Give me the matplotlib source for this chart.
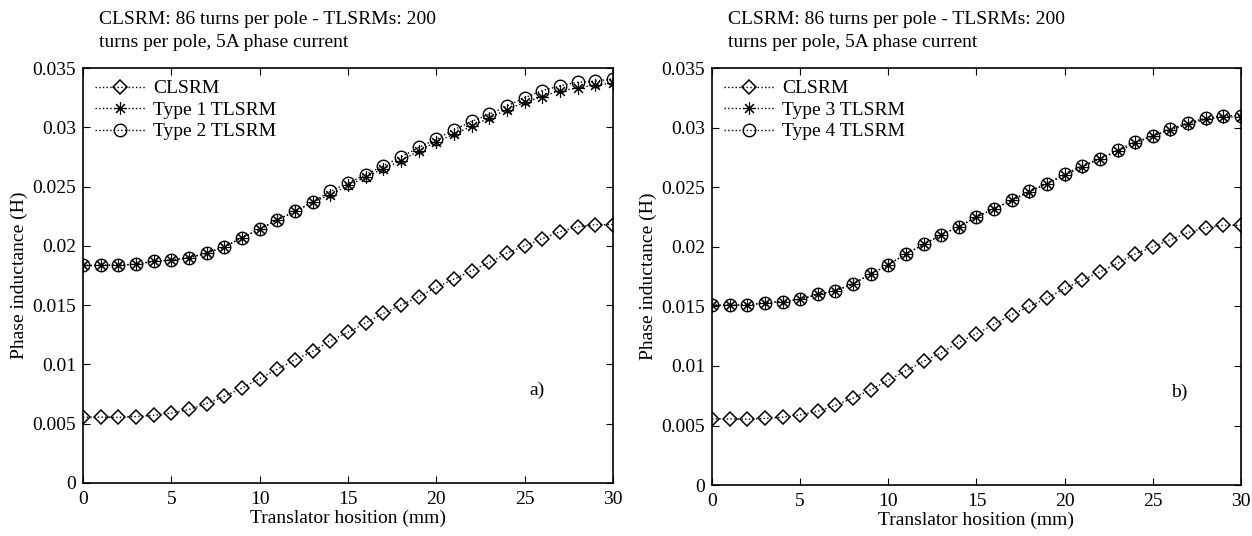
import numpy as np
import matplotlib
matplotlib.use("Agg")
import matplotlib.pyplot as plt

plt.rcParams["font.family"] = ["Liberation Serif", "DejaVu Serif"]
plt.rcParams["font.size"] = 14

# ── Daten ────────────────────────────────────────────────────────────────────
pos = np.arange(0, 31)  # Translator-Position in mm

clsrm = [0.00555, 0.00555, 0.00553, 0.0056, 0.0057, 0.0059, 0.0062, 0.0067,
         0.0073, 0.0080, 0.0088, 0.0096, 0.0104, 0.0111, 0.0120, 0.0127,
         0.0135, 0.0143, 0.0150, 0.0157, 0.0165, 0.0172, 0.0179, 0.0186,
         0.0194, 0.0200, 0.0206, 0.0212, 0.0216, 0.0218, 0.0218]

type1 = [0.01835, 0.01835, 0.01838, 0.01845, 0.0187, 0.0188, 0.0190, 0.0194,
         0.0199, 0.0207, 0.0214, 0.0222, 0.0229, 0.0237, 0.0243, 0.0251,
         0.0258, 0.0265, 0.0272, 0.0280, 0.0288, 0.0294, 0.0301, 0.0308,
         0.0315, 0.0321, 0.0326, 0.0331, 0.0333, 0.0336, 0.0337]

type2 = [0.01835, 0.01835, 0.01838, 0.01845, 0.0187, 0.0188, 0.0190, 0.0194,
         0.0199, 0.0207, 0.0214, 0.0222, 0.0229, 0.0237, 0.0246, 0.0253,
         0.0260, 0.02675, 0.0275, 0.0283, 0.0290, 0.0298, 0.0305, 0.0311,
         0.0318, 0.0325, 0.0331, 0.0335, 0.0338, 0.0339, 0.0341]

type3 = [0.0151, 0.0151, 0.0151, 0.0153, 0.0154, 0.0156, 0.0160, 0.0163,
         0.0169, 0.0177, 0.0185, 0.0194, 0.0202, 0.0210, 0.0217, 0.0225,
         0.0232, 0.0239, 0.0246, 0.0253, 0.0260, 0.0267, 0.0274, 0.0280,
         0.0287, 0.0293, 0.0298, 0.0303, 0.0307, 0.0309, 0.0309]

type4 = [0.0151, 0.0151, 0.0151, 0.0153, 0.0154, 0.0156, 0.0160, 0.0163,
         0.0169, 0.0177, 0.0185, 0.0194, 0.0202, 0.0210, 0.0217, 0.0225,
         0.0232, 0.0239, 0.0247, 0.0253, 0.0261, 0.0268, 0.0274, 0.0281,
         0.0288, 0.0293, 0.0299, 0.0304, 0.0308, 0.0310, 0.0310]

title = "CLSRM: 86 turns per pole - TLSRMs: 200\nturns per pole, 5A phase current"
yticks = [0, 0.005, 0.01, 0.015, 0.02, 0.025, 0.03, 0.035]
ytick_labels = ["0", "0.005", "0.01", "0.015", "0.02", "0.025", "0.03", "0.035"]
xticks = [0, 5, 10, 15, 20, 25, 30]

panels = [
    ("a)", [("CLSRM", clsrm), ("Type 1 TLSRM", type1), ("Type 2 TLSRM", type2)], 25.7),
    ("b)", [("CLSRM", clsrm), ("Type 3 TLSRM", type3), ("Type 4 TLSRM", type4)], 26.5),
]

markers = [
    dict(marker="D", markersize=7, markerfacecolor="none", markeredgewidth=1.1),
    dict(marker=(8, 2, 0), markersize=9, markeredgewidth=0.8),
    dict(marker="o", markersize=9, markerfacecolor="none", markeredgewidth=1.0),
]

fig = plt.figure(figsize=(12.52, 5.36), dpi=100)
ax_pos = [[0.0663, 0.099, 0.4233, 0.774], [0.5687, 0.095, 0.4225, 0.778]]

for (tag, series, tag_x), rect in zip(panels, ax_pos):
    ax = fig.add_axes(rect)
    for (lbl, vals), mk in zip(series, markers):
        ax.plot(pos, vals, linestyle=":", color="black", linewidth=1.0,
                markeredgecolor="black", label=lbl, **mk)
    ax.set_xlim(0, 30)
    ax.set_ylim(0, 0.035)
    ax.set_xticks(xticks)
    ax.set_yticks(yticks)
    ax.set_yticklabels(ytick_labels)
    ax.tick_params(direction="in", top=True, right=True, length=5,
                   labelsize=14)
    ax.tick_params(axis="x", pad=6)
    ax.tick_params(axis="y", pad=5)
    for sp in ax.spines.values():
        sp.set_linewidth(1.2)
    ax.set_xlabel("Translator hosition (mm)", fontsize=14, labelpad=1)
    ax.set_ylabel("Phase inductance (H)", fontsize=14, labelpad=3)
    ax.set_title(title, fontsize=14, loc="left", x=0.03, pad=15,
                 linespacing=1.5)
    ax.text(tag_x, 0.0078, tag, fontsize=14, ha="center", va="center")
    ax.legend(loc="upper left", frameon=False, fontsize=14, handlelength=2.6,
              handletextpad=0.4, borderaxespad=0.4, labelspacing=0.2,
              borderpad=0.2)

fig.savefig("out.png", dpi=100)
